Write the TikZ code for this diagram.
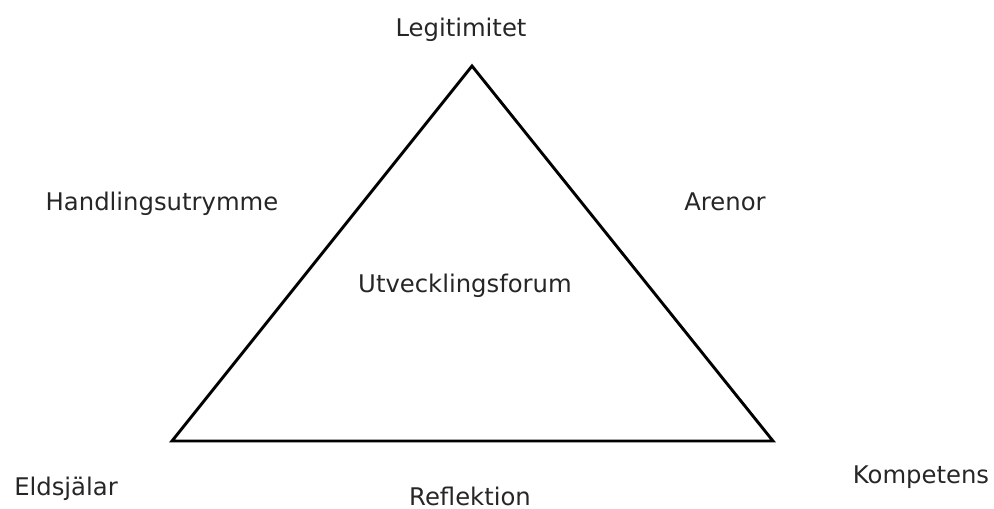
\documentclass[tikz,border=0pt]{standalone}
\usepackage{fontspec}
\setmainfont{DejaVu Sans}
\begin{document}
\begin{tikzpicture}[x=1pt,y=-1pt,
  lbl/.style={anchor=base,inner sep=0pt,font=\fontsize{24.3}{29}\selectfont,text=black!85}]
\useasboundingbox (0,0) rectangle (994,509);
\coordinate (top) at (472,66);
\coordinate (bl) at (172,441);
\coordinate (br) at (773,441);
\draw[line width=2.9pt,line join=miter] (top) -- (br) -- (bl) -- cycle;
\node[lbl] (leg) at (461,36) {Legitimitet};
\node[lbl] (han) at (162,210) {Handlingsutrymme};
\node[lbl] (are) at (725,210) {Arenor};
\node[lbl] (utv) at (465,292) {Utvecklingsforum};
\node[lbl] (eld) at (66,495) {Eldsjälar};
\node[lbl] (ref) at (470,505) {Reflektion};
\node[lbl] (kom) at (921,483) {Kompetens};
\end{tikzpicture}
\end{document}
